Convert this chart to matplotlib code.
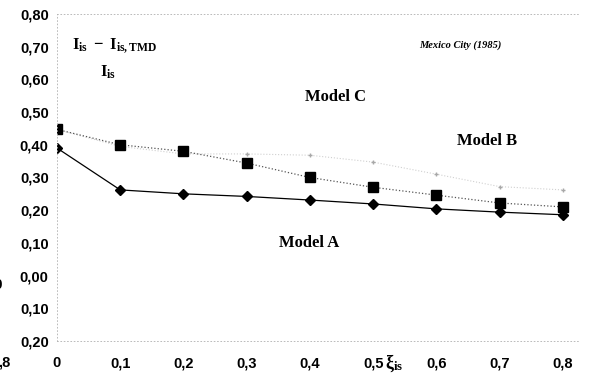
import matplotlib.pyplot as plt
import numpy as np

plt.rcParams['font.family'] = ['Liberation Sans', 'DejaVu Sans']
plt.rcParams['mathtext.fontset'] = 'custom'
plt.rcParams['mathtext.rm'] = 'Liberation Serif:bold'
plt.rcParams['mathtext.bf'] = 'Liberation Serif:bold'
plt.rcParams['mathtext.it'] = 'Liberation Serif:bold'

# damping ratio of the isolation system
xi = [0.0, 0.1, 0.2, 0.3, 0.4, 0.5, 0.6, 0.7, 0.8]
# (I_is - I_is,TMD) / I_is
model_a = [0.390, 0.262, 0.250, 0.242, 0.231, 0.219, 0.204, 0.194, 0.186]
model_b = [0.447, 0.400, 0.380, 0.344, 0.300, 0.270, 0.246, 0.222, 0.210]
model_c = [0.447, 0.395, 0.372, 0.372, 0.368, 0.347, 0.310, 0.272, 0.262]

y_ticks = [0.8, 0.7, 0.6, 0.5, 0.4, 0.3, 0.2, 0.1, 0.0, -0.1, -0.2]
y_labels = ['0,80', '0,70', '0,60', '0,50', '0,40', '0,30', '0,20', '0,10', '0,00', '0,10', '0,20']
x_labels = ['0', '0,1', '0,2', '0,3', '0,4', '0,5', '0,6', '0,7', '0,8']

fig = plt.figure(figsize=(5.91, 3.77), dpi=100)
ax = fig.add_axes([0.0964, 0.0955, 0.885, 0.8675])

# Model C - faint dotted series
ax.plot(xi, model_c, linestyle=':', color='#d0d0d0', linewidth=0.8,
        marker='+', markersize=3, markeredgecolor='#a8a8a8')
# Model B - squares, dotted line
ax.plot(xi, model_b, linestyle=':', color='#555555', linewidth=0.9,
        marker='s', markersize=7, markerfacecolor='black', markeredgecolor='black')
# Model A - diamonds, solid thin line
ax.plot(xi, model_a, linestyle='-', color='black', linewidth=0.9,
        marker='D', markersize=5.5, markerfacecolor='black', markeredgecolor='black')

ax.set_xlim(0, 0.827)
ax.set_ylim(-0.2, 0.8)
ax.set_yticks(y_ticks)
ax.set_yticklabels(y_labels)
ax.set_xticks(xi)
ax.set_xticklabels(x_labels)
ax.tick_params(length=0, labelsize=10.5)
ax.tick_params(axis='y', pad=6)
ax.tick_params(axis='x', pad=11)
for lab in ax.get_xticklabels() + ax.get_yticklabels():
    lab.set_fontweight('bold')

for s in ['left', 'top', 'bottom']:
    ax.spines[s].set_linestyle((0, (1, 3)))
    ax.spines[s].set_color('#b0b0b0')
    ax.spines[s].set_linewidth(0.6)
ax.spines['right'].set_visible(False)

serif = ['Liberation Serif', 'DejaVu Serif']
ax.text(0.024, 0.705, r'$\mathbf{I_{is}\;-\;I_{is,TMD}}$', fontsize=12, va='center')
ax.text(0.068, 0.622, r'$\mathbf{I_{is}}$', fontsize=12, va='center')
ax.text(0.637, 0.703, 'Mexico City (1985)', family=serif, fontsize=7.5,
        fontweight='bold', style='italic', ha='center', va='center')
ax.text(0.440, 0.545, 'Model C', family=serif, fontsize=12, fontweight='bold',
        ha='center', va='center')
ax.text(0.680, 0.412, 'Model B', family=serif, fontsize=12, fontweight='bold',
        ha='center', va='center')
ax.text(0.398, 0.100, 'Model A', family=serif, fontsize=12, fontweight='bold',
        ha='center', va='center')
fig.text(0.667, 0.036, r'$\xi_{is}$', fontsize=13, ha='center', va='center')

# stray fragments from neighbouring figure on the scan
fig.text(-0.003, 0.038, ',8', fontsize=10.5, fontweight='bold', va='center')
fig.text(-0.012, 0.245, '0', fontsize=11, fontweight='bold', va='center')

fig.savefig('out.png', dpi=100)
